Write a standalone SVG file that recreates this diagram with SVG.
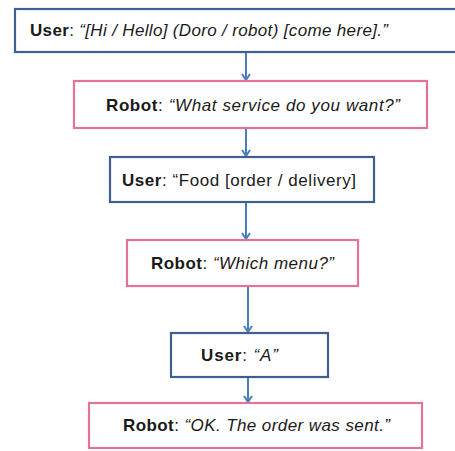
<svg xmlns="http://www.w3.org/2000/svg" width="455" height="451" viewBox="0 0 455 451">
<style>
.u{fill:#fff;stroke:#3f5f8f;stroke-width:2.2}
.r{fill:#fff;stroke:#e2739c;stroke-width:2.2}
.t{font-family:"Liberation Sans",Arial,sans-serif;font-size:17px;fill:#1a1a1a;text-anchor:middle}
.b{font-weight:bold}
.i{font-style:italic}
.c{stroke:#4a7ebb;stroke-width:2;fill:none}
</style>
<defs>
<marker id="ah" markerWidth="10" markerHeight="10" refX="7" refY="5" orient="auto" markerUnits="userSpaceOnUse">
<path d="M1,1 L7,5 L1,9" fill="none" stroke="#4a7ebb" stroke-width="2"/>
</marker>
</defs>
<rect width="455" height="451" fill="#fff"/>
<g id="connectors">
<line class="c" x1="246" y1="53" x2="246" y2="80" marker-end="url(#ah)"/>
<line class="c" x1="246" y1="129" x2="246" y2="156" marker-end="url(#ah)"/>
<line class="c" x1="246" y1="203" x2="246" y2="239" marker-end="url(#ah)"/>
<line class="c" x1="248" y1="287" x2="248" y2="332" marker-end="url(#ah)"/>
<line class="c" x1="248" y1="378" x2="248" y2="402" marker-end="url(#ah)"/>
</g>
<g id="n1">
<rect class="u" x="15" y="9" width="442" height="43"/>
<text class="t" x="209" y="36" textLength="358" lengthAdjust="spacing"><tspan class="b">User</tspan>: <tspan class="i">“[Hi / Hello] (Doro / robot) [come here].”</tspan></text>
</g>
<g id="n2">
<rect class="r" x="74" y="81" width="353" height="47"/>
<text class="t" x="253" y="111" textLength="294" lengthAdjust="spacing"><tspan class="b">Robot</tspan>: <tspan class="i">“What service do you want?”</tspan></text>
</g>
<g id="n3">
<rect class="u" x="110" y="157" width="264" height="45"/>
<text class="t" x="239" y="186" textLength="234" lengthAdjust="spacing"><tspan class="b">User</tspan>:  “Food [order / delivery]</text>
</g>
<g id="n4">
<rect class="r" x="127" y="240" width="231" height="46"/>
<text class="t" x="242.5" y="269" textLength="183" lengthAdjust="spacing"><tspan class="b">Robot</tspan>: <tspan class="i">“Which menu?”</tspan></text>
</g>
<g id="n5">
<rect class="u" x="171" y="333" width="157" height="44"/>
<text class="t" x="239.5" y="361" textLength="77" lengthAdjust="spacing"><tspan class="b">User</tspan>: <tspan class="i">“A”</tspan></text>
</g>
<g id="n6">
<rect class="r" x="89" y="403" width="333" height="45"/>
<text class="t" x="256.5" y="431" textLength="267" lengthAdjust="spacing"><tspan class="b">Robot</tspan>: <tspan class="i">“OK. The order was sent.”</tspan></text>
</g>
</svg>
